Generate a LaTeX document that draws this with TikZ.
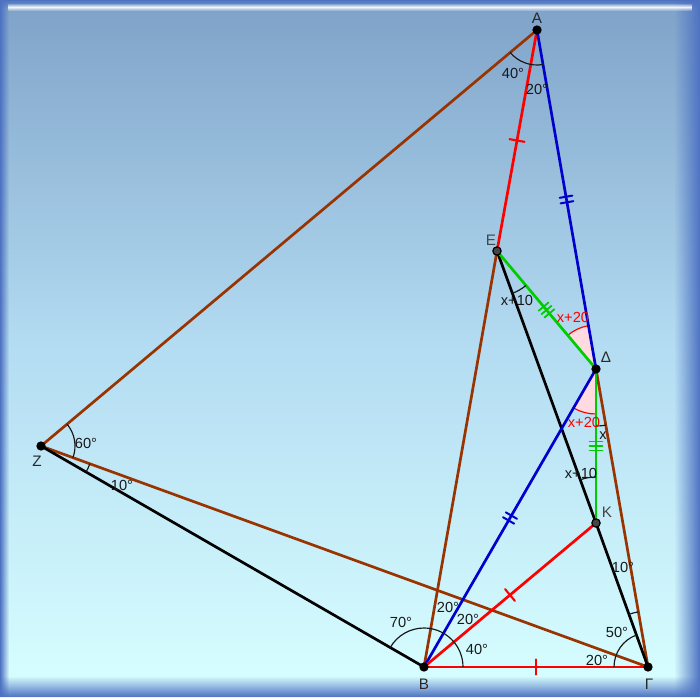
\documentclass[tikz,border=0pt]{standalone}
\usepackage{fontspec}
\setmainfont{Liberation Sans}
\usetikzlibrary{angles,decorations.markings,fadings}
\definecolor{bgtop}{RGB}{126,162,200}
\definecolor{bgmid}{RGB}{180,220,242}
\definecolor{bgbot}{RGB}{216,255,255}
\definecolor{framec}{RGB}{78,114,194}
\definecolor{sbrown}{RGB}{153,51,0}
\definecolor{sred}{RGB}{255,0,0}
\definecolor{sblue}{RGB}{0,0,204}
\definecolor{sgreen}{RGB}{0,204,0}
\definecolor{pinkf}{RGB}{255,218,224}
\definecolor{txt}{RGB}{25,25,25}
\definecolor{vtx}{RGB}{40,40,40}
\definecolor{vtxg}{RGB}{70,70,70}
\tikzfading[name=midband, top color=transparent!100, bottom color=transparent!100, middle color=transparent!0]
\begin{document}
\begin{tikzpicture}[x=0.03cm,y=-0.03cm,
  seg/.style={line width=2.3pt, line cap=round},
  arcline/.style={draw=txt, line width=1pt},
  pinkarc/.style={draw=sred, fill=pinkf, line width=1pt},
  tickone/.style={postaction={decorate,decoration={markings,
      mark=at position 0.5 with {\draw[#1,line width=1.8pt] (0pt,-6.5pt)--(0pt,6.5pt);}}}},
  ticktwo/.style={postaction={decorate,decoration={markings,
      mark=at position 0.5 with {\draw[#1,line width=1.7pt] (-2.4pt,-5.5pt)--(-2.4pt,5.5pt) (2.4pt,-5.5pt)--(2.4pt,5.5pt);}}}},
  tickthree/.style={postaction={decorate,decoration={markings,
      mark=at position 0.5 with {\draw[#1,line width=1.5pt] (-3.8pt,-5.5pt)--(-3.8pt,5.5pt) (0pt,-5.5pt)--(0pt,5.5pt) (3.8pt,-5.5pt)--(3.8pt,5.5pt);}}}},
  dot/.style={circle, fill=black, inner sep=0pt, minimum size=0.28cm},
  gdot/.style={circle, fill=vtxg, draw=black, line width=1pt, inner sep=0pt, minimum size=0.25cm},
  lab/.style={font=\fontsize{12.5}{14}\selectfont, text=txt, inner sep=0pt},
  rlab/.style={font=\fontsize{12.5}{14}\selectfont, text=sred, inner sep=0pt},
  vlab/.style={font=\fontsize{13}{15}\selectfont, text=vtx, inner sep=0pt},
  glab/.style={font=\fontsize{13}{15}\selectfont, text=vtxg, inner sep=0pt}]
\useasboundingbox (0,0) rectangle (700,697);
% background
\fill[top color=bgtop, bottom color=bgbot, middle color=bgmid] (0,0) rectangle (700,697);
\fill[framec, path fading=east] (0,0) rectangle (9,697);
\fill[framec, path fading=west] (674,0) rectangle (700,697);
\fill[framec, path fading=north] (0,676) rectangle (700,697);
\fill[framec, path fading=south] (0,0) rectangle (700,8);
\fill[white, path fading=midband, opacity=0.9] (8,3) rectangle (692,11);
% points
\coordinate (A) at (537,30);
\coordinate (E) at (497,251);
\coordinate (D) at (596,369);
\coordinate (K) at (596,523);
\coordinate (Z) at (41,446);
\coordinate (B) at (424,667);
\coordinate (G) at (648,667);
% pink sectors
\pic[pinkarc, angle radius=1.32cm] {angle=A--D--E};
\pic[pinkarc, angle radius=1.35cm] {angle=B--D--K};
% segments
\draw[seg, sbrown] (Z) -- (A);
\draw[seg, sbrown] (Z) -- (G);
\draw[seg, black] (Z) -- (B);
\draw[seg, sbrown] (E) -- (B);
\draw[seg, sbrown] (D) -- (G);
\draw[seg, black] (E) -- (K);
\draw[seg, black] (K) -- (G);
\draw[seg, sred, tickone=sred] (A) -- (E);
\draw[seg, sblue, ticktwo=sblue] (A) -- (D);
\draw[seg, sblue, ticktwo=sblue] (B) -- (D);
\draw[seg, sgreen, tickthree=sgreen] (E) -- (D);
\draw[seg, sgreen, tickthree=sgreen] (D) -- (K);
\draw[seg, sred, tickone=sred] (B) -- (K);
\draw[seg, sred, tickone=sred] (B) -- (G);
% angle arcs
\pic[arcline, angle radius=1.05cm] {angle=Z--A--D};
\pic[arcline, angle radius=1.02cm] {angle=G--Z--A};
\pic[arcline, angle radius=1.56cm] {angle=B--Z--G};
\pic[arcline, angle radius=1.17cm] {angle=G--B--Z};
\pic[arcline, angle radius=1.02cm] {angle=K--G--B};
\pic[arcline, angle radius=1.68cm] {angle=D--G--K};
\pic[arcline, angle radius=1.35cm] {angle=K--E--D};
\pic[arcline, angle radius=1.71cm] {angle=K--D--G};
\pic[arcline, angle radius=1.38cm] {angle=D--K--E};
% dots
\node[dot] (dA) at (A) {};
\node[gdot] (dE) at (E) {};
\node[dot] (dD) at (D) {};
\node[gdot] (dK) at (K) {};
\node[dot] (dZ) at (Z) {};
\node[dot] (dB) at (B) {};
\node[dot] (dG) at (G) {};
% vertex labels
\node[vlab] (tA) at (537,18) {A};
\node[glab] (tE) at (491,240) {E};
\node[vlab] (tD) at (606,357) {Δ};
\node[glab] (tK) at (607,512) {K};
\node[vlab] (tZ) at (37,461) {Z};
\node[vlab] (tB) at (424,684) {B};
\node[vlab] (tG) at (649,684) {Γ};
% angle labels
\node[lab] (a1) at (513,73) {40°};
\node[lab] (a2) at (537,89) {20°};
\node[lab] (a3) at (517,300) {x+10};
\node[rlab] (a4) at (573,317) {x+20};
\node[rlab] (a5) at (584,422) {x+20};
\node[lab] (a6) at (603,436) {x};
\node[lab] (a7) at (581,473) {x+10};
\node[lab] (a8) at (86,443) {60°};
\node[lab] (a9) at (122,485) {10°};
\node[lab] (a10) at (401,622) {70°};
\node[lab] (a11) at (448,607) {20°};
\node[lab] (a12) at (468,619) {20°};
\node[lab] (a13) at (477,649) {40°};
\node[lab] (a14) at (623,567) {10°};
\node[lab] (a15) at (617,632) {50°};
\node[lab] (a16) at (597,660) {20°};
\end{tikzpicture}
\end{document}
